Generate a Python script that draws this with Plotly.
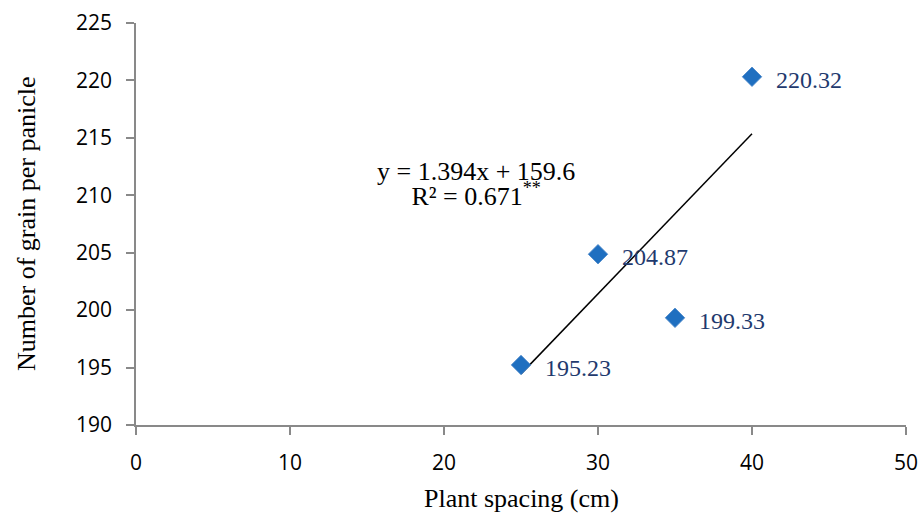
import plotly.graph_objects as go

spacing = [25, 30, 35, 40]
grains = [195.23, 204.87, 199.33, 220.32]
labels = ["195.23", "204.87", "199.33", "220.32"]
slope = 1.394
intercept = 159.6
trend_x = [25, 40]
trend_y = [slope * x + intercept for x in trend_x]
eq_line1 = "y = 1.394x + 159.6"
eq_line2 = "R² = 0.671<sup>**</sup>"

serif = "Liberation Serif"
fig = go.Figure()
fig.add_trace(go.Scatter(x=trend_x, y=trend_y, mode="lines",
                         line=dict(color="black", width=1.5), showlegend=False))
fig.add_trace(go.Scatter(x=spacing, y=grains, mode="markers",
                         marker=dict(symbol="diamond", size=15, color="#1F6FC0",
                                     line=dict(color="#4A86C8", width=0.8)),
                         showlegend=False))
for x, y, t in zip(spacing, grains, labels):
    fig.add_annotation(x=x, y=y, text=t, showarrow=False, xanchor="left", xshift=22, yshift=-3,
                       font=dict(family=serif, size=24, color="#1F3A6E"))

eq_text = ("<span style='font-size:26px'>" + eq_line1 + "</span><br>"
           "<span style='font-size:26px'>" + eq_line2 + "</span>")
fig.add_annotation(x=22.05, y=211.0, text=eq_text, showarrow=False, xanchor="center",
                   yanchor="middle", align="center",
                   font=dict(family=serif, size=19.5, color="black"))

fig.add_annotation(xref="paper", yref="paper", x=0.5, y=0, yanchor="middle", yshift=-73,
                   text="Plant spacing (cm)", showarrow=False,
                   font=dict(family=serif, size=26, color="black"))
fig.add_annotation(xref="paper", yref="paper", x=0, y=0.5, xanchor="center", xshift=-110,
                   textangle=-90, text="Number of grain per panicle", showarrow=False,
                   font=dict(family=serif, size=26, color="black"))

axis_common = dict(showline=True, linecolor="#898989", linewidth=1.5, ticks="outside",
                   ticklen=8, tickcolor="#898989", tickwidth=1.5, showgrid=False, zeroline=False,
                   automargin=False, ticklabelstandoff=10,
                   tickfont=dict(family="Open Sans", size=21, color="black"))
fig.update_xaxes(range=[0, 50], dtick=10, **axis_common)
fig.update_yaxes(range=[190, 225], dtick=5, **axis_common)
fig.update_layout(width=920, height=515, margin=dict(l=136, r=14, t=23, b=90, autoexpand=False),
                  plot_bgcolor="white", paper_bgcolor="white")
fig.write_html("out.html", config={"displayModeBar": False},
               post_script="document.body.style.margin='0';")
